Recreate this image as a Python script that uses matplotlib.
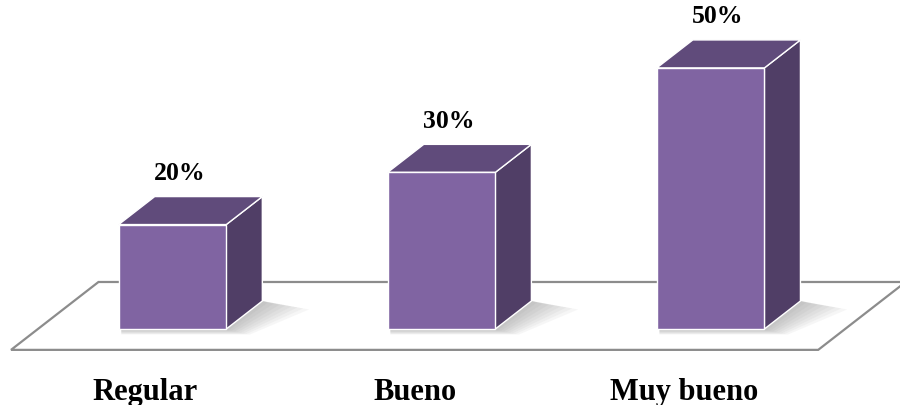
import matplotlib.pyplot as plt
from matplotlib.patches import Polygon
import numpy as np

categories = ['Regular', 'Bueno', 'Muy bueno']
values = [20, 30, 50]
value_labels = ['20%', '30%', '50%']

FRONT = '#8064A2'
TOP = '#604B7B'
SIDE = '#503E66'
FLOOR_EDGE = '#8c8c8c'

bar_w = 0.4
depth_x = 0.134   # oblique depth of the boxes (category units)
depth_y = 5.36    # same depth in percent units
slope = depth_x / depth_y

# floor of the plot area
floor_front, floor_back = -4.0, 9.0
floor_left, floor_right = -0.60, 2.40

plt.rcParams['font.family'] = ['Liberation Serif', 'DejaVu Serif']

fig = plt.figure(figsize=(9, 4.06), dpi=100)
ax = fig.add_axes([0, 0, 1, 1])
ax.set_xlim(-0.641, 2.704)
ax.set_ylim(-14.56, 63.2)
ax.axis('off')

# floor
fs = (floor_back - floor_front) * slope
floor = Polygon([(floor_left, floor_front), (floor_right, floor_front),
                 (floor_right + fs, floor_back), (floor_left + fs, floor_back)],
                closed=True, facecolor='white', edgecolor=FLOOR_EDGE,
                linewidth=1.6, zorder=1)
ax.add_patch(floor)

x = np.arange(len(values))

# soft shadows on the floor
for xi in x:
    x0, x1 = xi - bar_w / 2, xi + bar_w / 2
    for k in range(8):
        s = 0.02 + 0.022 * k
        t = 0.3 + 0.15 * k
        shp = [(x0 + 0.01, 0), (x1, 0), (x1 + depth_x, depth_y),
               (x1 + depth_x + s, depth_y - t * 1.2),
               (x1 + s * 0.5, -t * 0.8), (x0 + 0.01, -t * 0.8)]
        ax.add_patch(Polygon(shp, closed=True, facecolor='#606060',
                             edgecolor='none', alpha=0.05, zorder=2))

# boxes
for xi, v in zip(x, values):
    x0, x1 = xi - bar_w / 2, xi + bar_w / 2
    side = [(x1, 0), (x1 + depth_x, depth_y), (x1 + depth_x, v + depth_y), (x1, v)]
    top = [(x0, v), (x1, v), (x1 + depth_x, v + depth_y), (x0 + depth_x, v + depth_y)]
    ax.add_patch(Polygon(side, closed=True, facecolor=SIDE, edgecolor='white',
                         linewidth=1.0, zorder=3))
    ax.add_patch(Polygon(top, closed=True, facecolor=TOP, edgecolor='white',
                         linewidth=1.0, zorder=3))

ax.bar(x, values, width=bar_w, bottom=0, color=FRONT, edgecolor='white',
       linewidth=1.0, zorder=4)

# value labels above the boxes
for xi, v, lab in zip(x, values, value_labels):
    ax.text(xi + 0.026, v + depth_y + 3.4, lab, ha='center', va='baseline',
            fontsize=18.5, fontweight='bold', color='black', zorder=5)

# category labels in front of the floor
for xi, c in zip(x, categories):
    ax.text(xi + floor_front * slope, -13.4, c, ha='center', va='baseline',
            fontsize=22, fontweight='bold', color='black', zorder=5)

fig.savefig('out.png', dpi=100)
